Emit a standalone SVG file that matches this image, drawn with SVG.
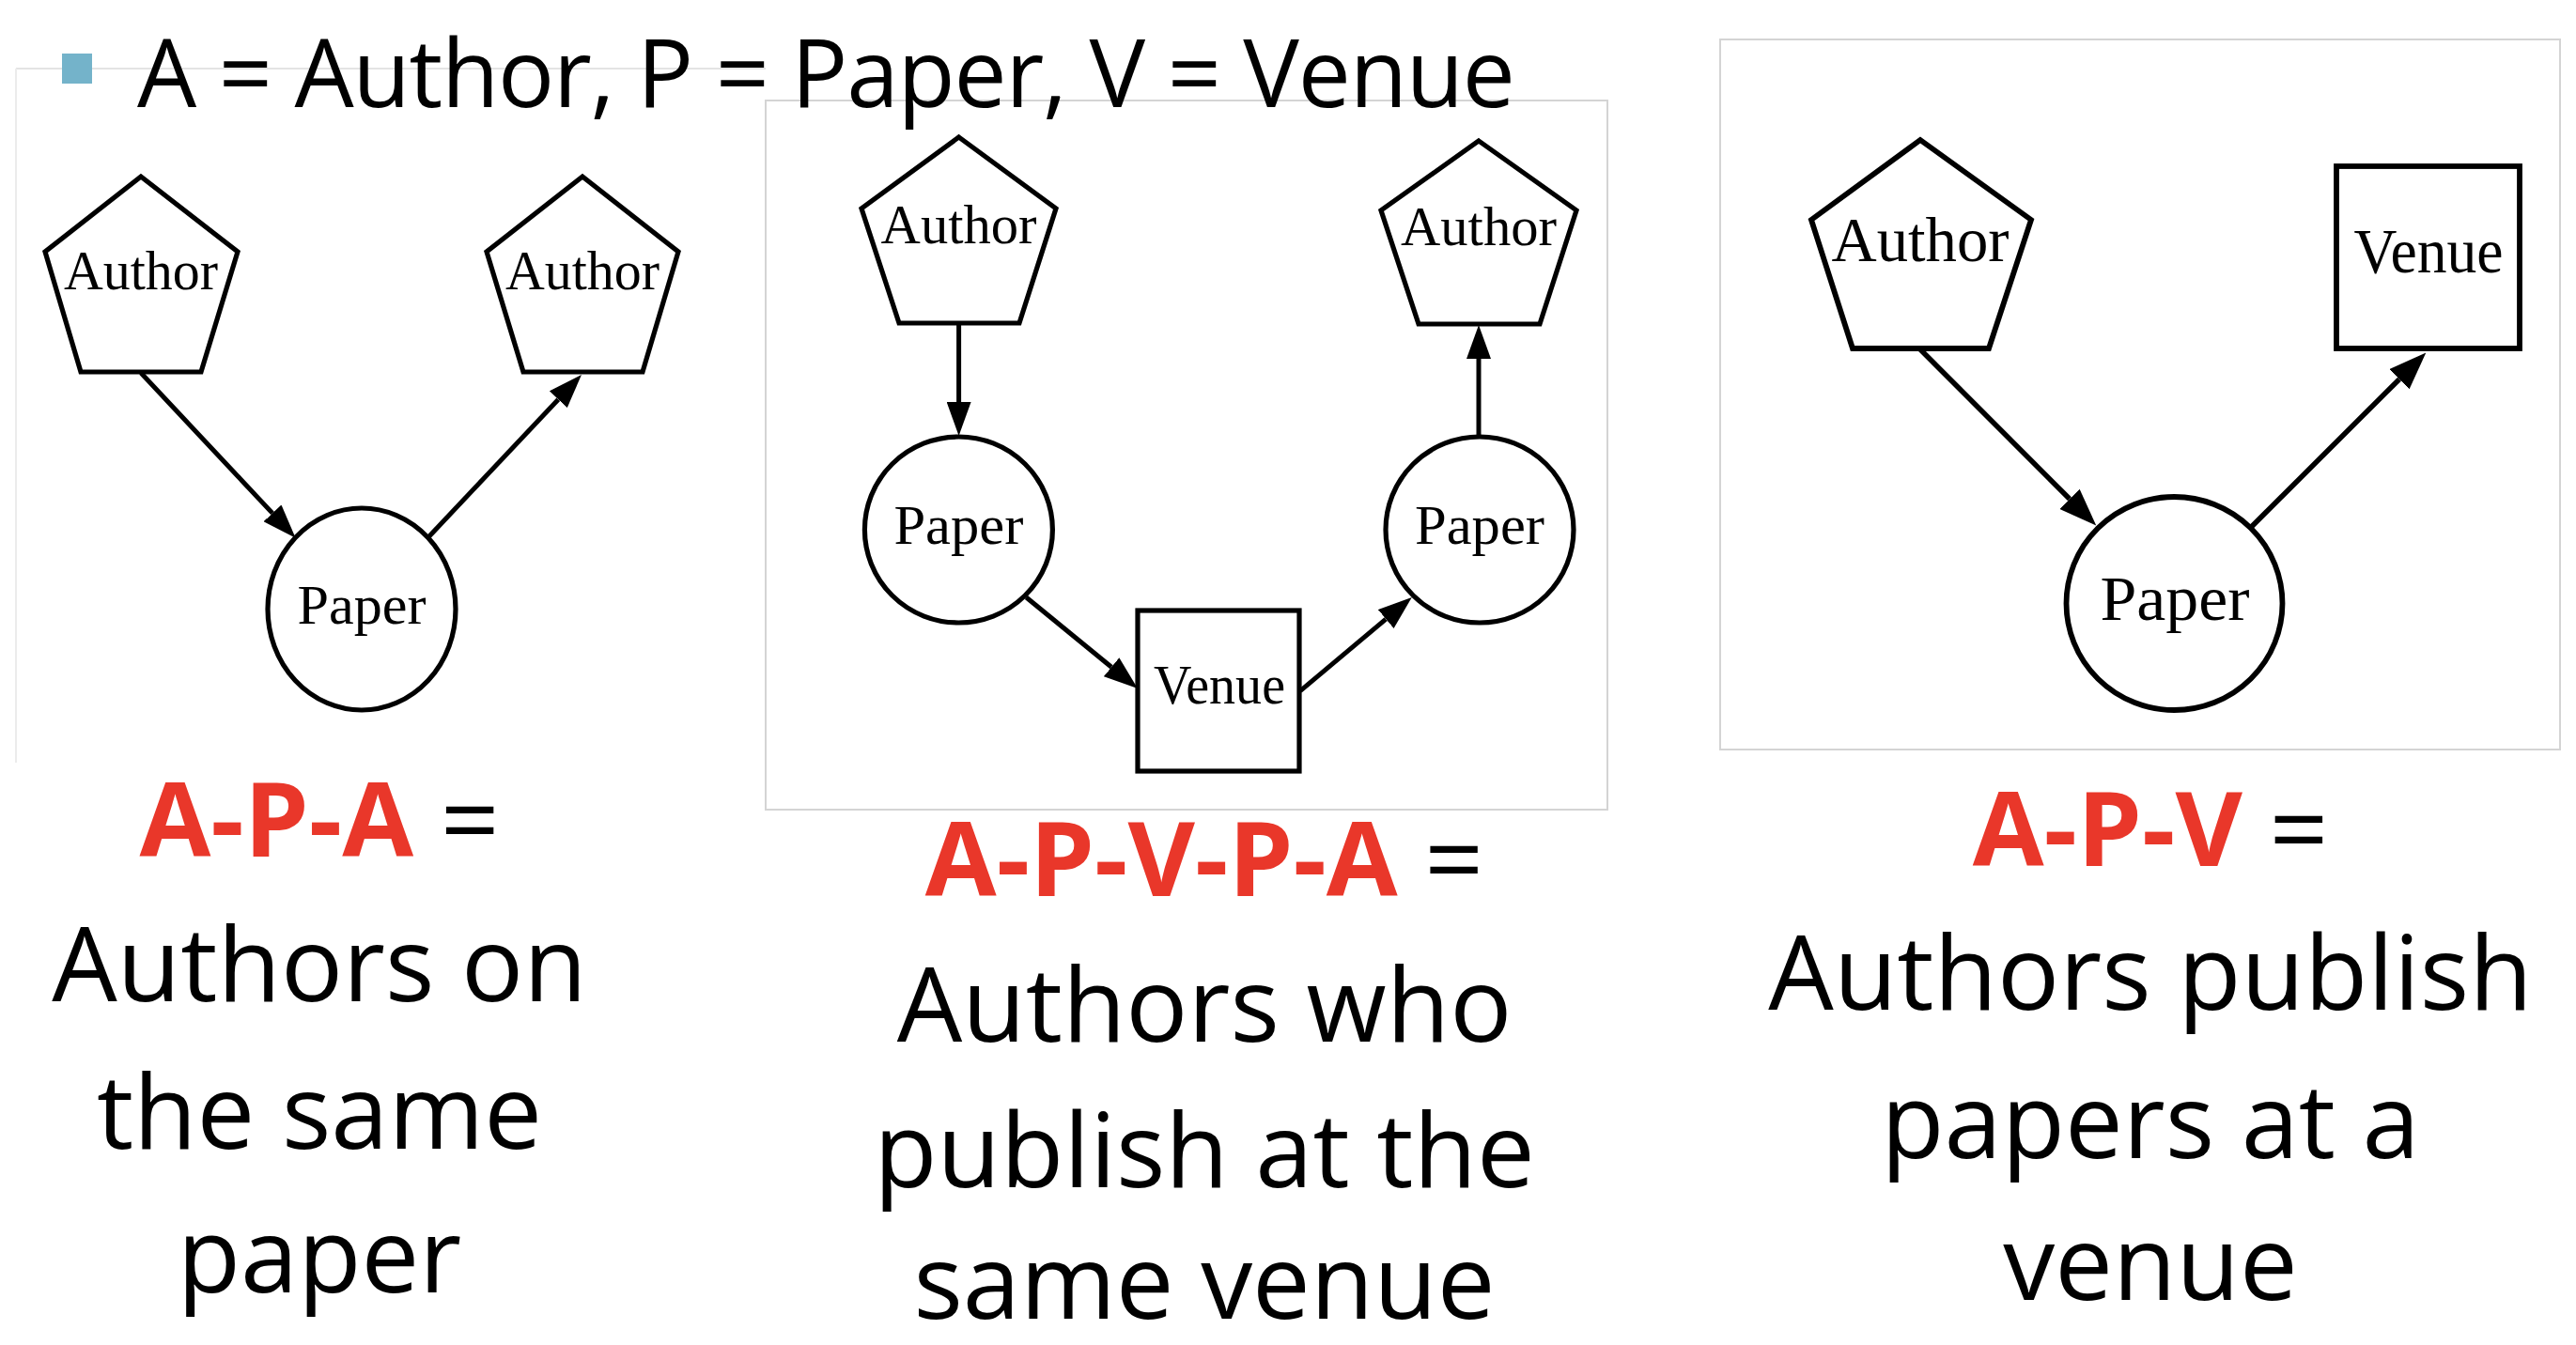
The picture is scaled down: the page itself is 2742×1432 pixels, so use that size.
<svg xmlns="http://www.w3.org/2000/svg" width="2742" height="1432" viewBox="0 0 2742 1432">
<style>
.node{fill:#fff;stroke:#000;stroke-width:5.2;stroke-linejoin:miter}
.node3{fill:#fff;stroke:#000;stroke-width:5.8;stroke-linejoin:miter}
.lbl{font-family:"Liberation Serif","Times New Roman",serif;font-size:60px;fill:#000;text-anchor:middle}
.lbl3{font-family:"Liberation Serif","Times New Roman",serif;font-size:68px;fill:#000;text-anchor:middle}
.edge{stroke:#000;stroke-width:5;fill:none}
.edge3{stroke:#000;stroke-width:5.5;fill:none}
.cap{font-family:"Open Sans","Liberation Sans",sans-serif;font-size:110px;fill:#000;text-anchor:middle}
.red{font-weight:bold;fill:#e9372a}
.frame{fill:#fff;stroke:#d4d4d4;stroke-width:2}
</style>
<defs>
<marker id="arr" markerWidth="36" markerHeight="26" refX="0" refY="13" orient="auto" markerUnits="userSpaceOnUse"><path d="M0,0 L36,13 L0,26 z" fill="#000"/></marker>
<marker id="arr3" markerWidth="40" markerHeight="30" refX="0" refY="15" orient="auto" markerUnits="userSpaceOnUse"><path d="M0,0 L40,15 L0,30 z" fill="#000"/></marker>
</defs>
<rect width="2742" height="1432" fill="#fff"/>

<g id="panel1-frame">
<line x1="17" y1="73" x2="815" y2="73" stroke="#e4e4e4" stroke-width="2"/>
<line x1="17" y1="73" x2="17" y2="812" stroke="#ececec" stroke-width="2"/>
</g>
<rect id="panel2-frame" class="frame" x="815" y="107" width="896" height="755"/>
<rect id="panel3-frame" class="frame" x="1831" y="42" width="894" height="756"/>

<g id="connectors">
<line class="edge" x1="150" y1="397" x2="290" y2="546.4" marker-end="url(#arr)"/>
<line class="edge" x1="455" y1="573" x2="594.3" y2="425.2" marker-end="url(#arr)"/>
<line class="edge" x1="1020.6" y1="344" x2="1020.6" y2="428" marker-end="url(#arr)"/>
<line class="edge" x1="1092.4" y1="636" x2="1183.1" y2="710.2" marker-end="url(#arr)"/>
<line class="edge" x1="1384" y1="735.6" x2="1475.2" y2="659.1" marker-end="url(#arr)"/>
<line class="edge" x1="1574" y1="463" x2="1574" y2="382" marker-end="url(#arr)"/>
<line class="edge3" x1="2044" y1="372" x2="2203" y2="531.3" marker-end="url(#arr3)"/>
<line class="edge3" x1="2396.6" y1="560.8" x2="2554" y2="403.7" marker-end="url(#arr3)"/>
</g>

<g id="p1-author-left">
<polygon class="node" points="150,188 253,268 214,396 86,396 48,268"/>
<text class="lbl" x="150" y="308" textLength="164" lengthAdjust="spacingAndGlyphs">Author</text>
</g>
<g id="p1-author-right">
<polygon class="node" points="620,188 722,268 684,396 557,396 518,268"/>
<text class="lbl" x="620" y="308" textLength="164" lengthAdjust="spacingAndGlyphs">Author</text>
</g>
<g id="p1-paper">
<ellipse class="node" cx="385" cy="648.5" rx="100" ry="107.5"/>
<text class="lbl" x="385" y="664" textLength="137" lengthAdjust="spacingAndGlyphs">Paper</text>
</g>

<g id="p2-author-left">
<polygon class="node" points="1020.6,146 1124,222 1085,344 957,344 917,222"/>
<text class="lbl" x="1020.6" y="259" textLength="166" lengthAdjust="spacingAndGlyphs">Author</text>
</g>
<g id="p2-paper-left">
<ellipse class="node" cx="1020.4" cy="564" rx="100" ry="99"/>
<text class="lbl" x="1020.4" y="579" textLength="138" lengthAdjust="spacingAndGlyphs">Paper</text>
</g>
<g id="p2-venue">
<rect class="node" x="1211" y="650" width="172" height="171"/>
<text class="lbl" x="1298" y="749" textLength="140" lengthAdjust="spacingAndGlyphs">Venue</text>
</g>
<g id="p2-paper-right">
<ellipse class="node" cx="1575" cy="564" rx="100" ry="99"/>
<text class="lbl" x="1575" y="579" textLength="138" lengthAdjust="spacingAndGlyphs">Paper</text>
</g>
<g id="p2-author-right">
<polygon class="node" points="1574,150 1678,224 1639,345 1510,345 1470,224"/>
<text class="lbl" x="1574" y="261" textLength="166" lengthAdjust="spacingAndGlyphs">Author</text>
</g>

<g id="p3-author">
<polygon class="node3" points="2044,149 2162,234 2117,371 1972,371 1928,234"/>
<text class="lbl3" x="2044" y="278" textLength="189" lengthAdjust="spacingAndGlyphs">Author</text>
</g>
<g id="p3-venue">
<rect class="node3" x="2487" y="177" width="195" height="194"/>
<text class="lbl3" x="2585" y="290" textLength="159" lengthAdjust="spacingAndGlyphs">Venue</text>
</g>
<g id="p3-paper">
<ellipse class="node3" cx="2314.5" cy="642.5" rx="115" ry="113.5"/>
<text class="lbl3" x="2315" y="660" textLength="159" lengthAdjust="spacingAndGlyphs">Paper</text>
</g>

<g id="title">
<rect x="66" y="57" width="32" height="32" fill="#74b3ca"/>
<text x="146" y="114" font-family="'Open Sans','Liberation Sans',sans-serif" font-size="100" fill="#000" textLength="1467">A = Author, P = Paper, V = Venue</text>
</g>

<g id="caption1">
<text class="cap" x="340" y="912"><tspan class="red">A-P-A</tspan> =</text>
<text class="cap" x="340" y="1066">Authors on</text>
<text class="cap" x="340" y="1223">the same</text>
<text class="cap" x="340" y="1376">paper</text>
</g>
<g id="caption2">
<text class="cap" x="1282" y="954"><tspan class="red">A-P-V-P-A</tspan> =</text>
<text class="cap" x="1282" y="1109">Authors who</text>
<text class="cap" x="1282" y="1264">publish at the</text>
<text class="cap" x="1282" y="1404">same venue</text>
</g>
<g id="caption3">
<text class="cap" x="2289" y="922"><tspan class="red">A-P-V</tspan> =</text>
<text class="cap" x="2289" y="1075">Authors publish</text>
<text class="cap" x="2289" y="1233">papers at a</text>
<text class="cap" x="2289" y="1384">venue</text>
</g>
</svg>
